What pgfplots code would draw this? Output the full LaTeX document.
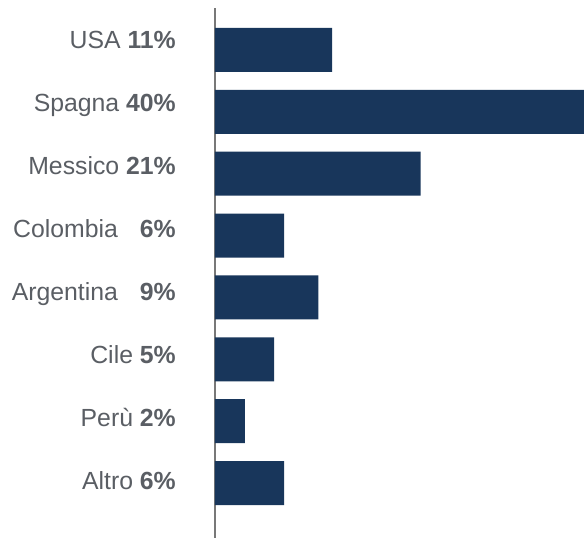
\documentclass[border=0pt]{standalone}
\usepackage{pgfplots}
\pgfplotsset{compat=1.18}
\usepackage{fontspec}
\setmainfont{Liberation Sans}
\definecolor{barblue}{RGB}{24,54,91}
\definecolor{txtgray}{RGB}{90,94,100}
\definecolor{linegray}{RGB}{120,120,120}
\begin{document}
\begin{tikzpicture}
\useasboundingbox (-215bp,0) rectangle (369bp,538bp);
\begin{axis}[
  at={(0,0)}, anchor=south west,
  scale only axis,
  width=369bp, height=530bp,
  xbar, bar width=44bp,
  xmin=0, xmax=40,
  ymin=-0.889, ymax=7.679,
  axis x line=none,
  axis y line*=left,
  axis line style={linegray, line width=1.5bp},
  ytick={-0.113,0.907,1.929,2.949,3.971,4.991,6.012,7.032},
  yticklabels={
    Altro \textbf{6\%},
    Perù \textbf{2\%},
    Cile \textbf{5\%},
    Argentina\hspace{22bp}\textbf{9\%},
    Colombia\hspace{22bp}\textbf{6\%},
    Messico \textbf{21\%},
    Spagna \textbf{40\%},
    USA \textbf{11\%}},
  major tick length=0pt,
  yticklabel style={font=\fontsize{24.8bp}{28bp}\selectfont, text=txtgray, anchor=base east, inner sep=0pt, xshift=-39bp},
  clip=true,
]
\addplot[fill=barblue, draw=none, bar shift=0pt] coordinates {
  (7.5,0) (3.25,1) (6.4,2) (11.2,3) (7.5,4) (22.3,5) (40,6) (12.7,7)
};
\end{axis}
\end{tikzpicture}
\end{document}
